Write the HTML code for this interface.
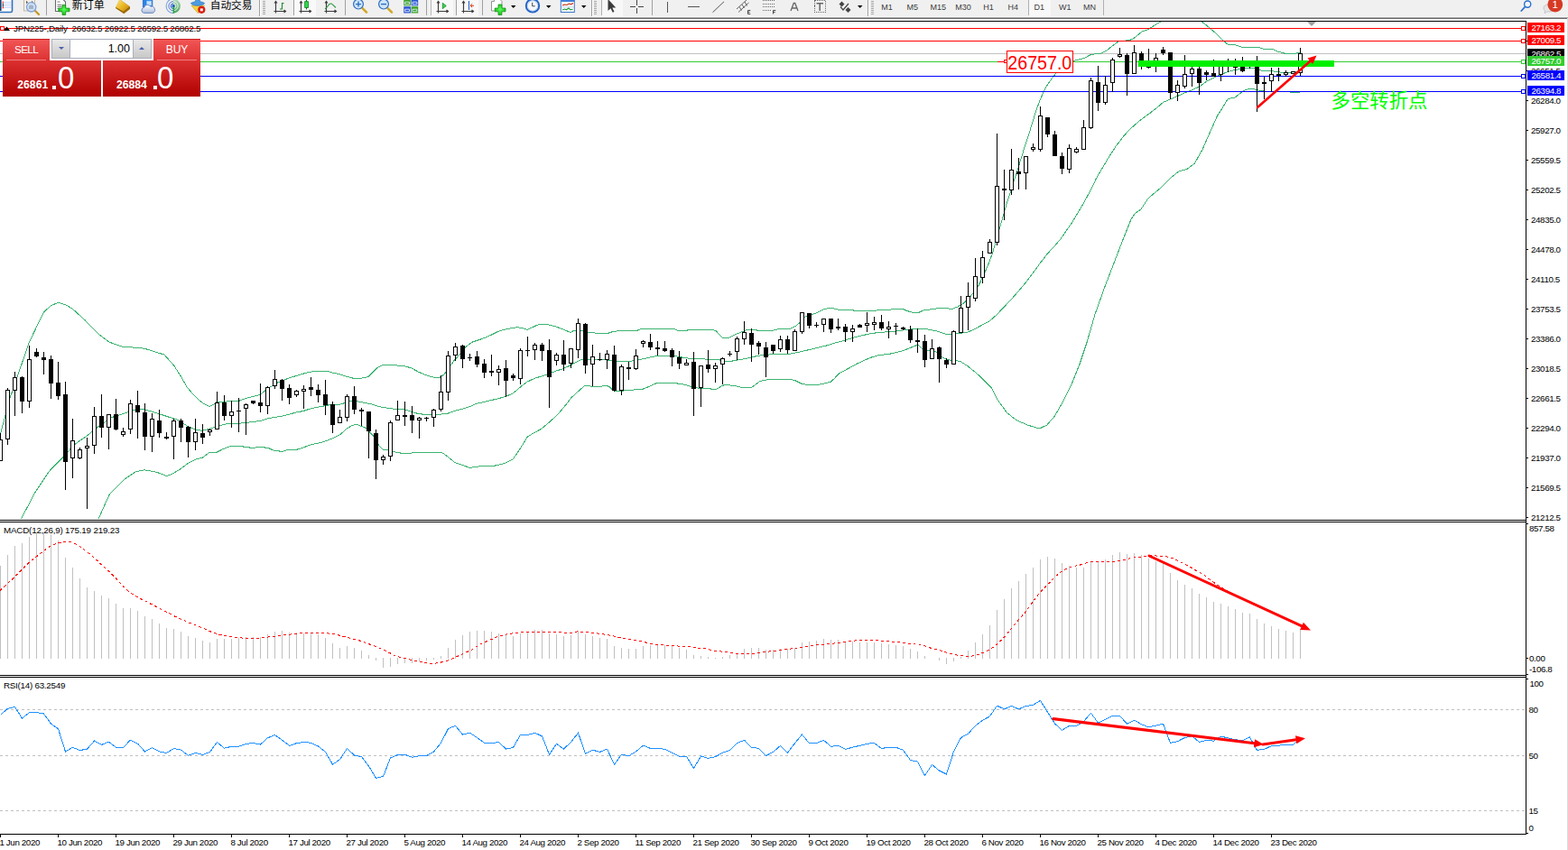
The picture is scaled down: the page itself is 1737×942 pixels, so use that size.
<!DOCTYPE html>
<html><head><meta charset="utf-8"><title>chart</title>
<style>
html,body{margin:0;padding:0;background:#fff}
body{width:1737px;height:942px;overflow:hidden;position:relative;font-family:"Liberation Sans",sans-serif}
svg{position:absolute;left:0;top:0;display:block}
#tbbg{position:absolute;left:0;top:0;width:1737px;height:18px;background:#f0f0f0}
#tbl1{position:absolute;left:0;top:18px;width:1737px;height:1px;background:#f8f8f8}
#tbl2{position:absolute;left:0;top:19px;width:1737px;height:1px;background:#a8a8a8}
#tbl3{position:absolute;left:0;top:20px;width:1737px;height:1px;background:#686868}
#rb{position:absolute;left:1736px;top:20px;width:1px;height:922px;background:#dcdcdc}
#panel{position:absolute;left:3px;top:43px;width:219px;height:64px}
#panel div{position:absolute;box-sizing:border-box}
.tab{background:linear-gradient(#f25555,#dc3232);color:#fff;font-size:12px;text-align:center;line-height:23px;border-top:1px solid #c81e1e}
.big{background:linear-gradient(#dc3030,#b00000);color:#fff}
</style></head><body>
<div id="tbbg"></div><div id="tbl1"></div><div id="tbl2"></div><div id="tbl3"></div>
<svg width="1737" height="24" viewBox="0 0 1737 24">
<text x="79.7" y="10.2" style="font-family:&quot;Liberation Sans&quot;,&quot;Noto Sans CJK SC&quot;,sans-serif;font-size:12px" fill="#000">新订单</text>
<text x="232.7" y="10.2" style="font-family:&quot;Liberation Sans&quot;,&quot;Noto Sans CJK SC&quot;,sans-serif;font-size:11.7px" fill="#000">自动交易</text>
<g id="ic1">
<rect x="-1" y="-2" width="14.5" height="15.5" rx="1.5" fill="#fff" stroke="#2f72bd" stroke-width="1.6"/>
<rect x="0" y="0" width="1.6" height="12" fill="#1c3f73"/>
<path d="M3.5 2.5h9M3.5 4.5h9M3.5 6.5h9M3.5 8.5h9" stroke="#9db8ff" stroke-width="0.6"/>
<rect x="2.7" y="1.8" width="1.3" height="1.3" fill="#f00"/><rect x="2.7" y="3.9" width="1.3" height="1.3" fill="#000"/><rect x="2.7" y="5.9" width="1.3" height="1.3" fill="#000"/><rect x="2.7" y="7.9" width="1.3" height="1.3" fill="#f00"/>
</g>
<g id="ic2">
<rect x="26.5" y="-1" width="12" height="13" fill="#f4efe6" stroke="#b9ad9c" stroke-width="0.8"/>
<path d="M29.5 1v3M29 2.5h2M35.5 1v3M35 2.5h2" stroke="#555" stroke-width="0.8"/>
<line x1="39" y1="12" x2="43" y2="16" stroke="#c49a2a" stroke-width="2.4" stroke-linecap="round"/>
<circle cx="34.7" cy="7.8" r="5.2" fill="#cfe0f2" fill-opacity="0.9" stroke="#7fa2dd" stroke-width="1.3"/>
<path d="M32 6.5q2.5-2 5 0v3.5h-5z" fill="#9fb2c8"/>
</g>
<rect x="51" y="0" width="1" height="17" fill="#a0a0a0"/>
<g id="ic3">
<path d="M61.5 -1h8l3 3v10.5h-11z" fill="#fff" stroke="#6a6a6a" stroke-width="1.1"/>
<path d="M63.5 2h3M63.5 5.5h5M63.5 7.5h5M63.5 9.5h3" stroke="#777" stroke-width="1"/>
<defs><radialGradient id="gp" cx="0.5" cy="0.45" r="0.6"><stop offset="0" stop-color="#5bff5b"/><stop offset="1" stop-color="#12b512"/></radialGradient></defs><path d="M69 5.5h3.7v3.6H77v3.7h-4.3v3.7H69v-3.7h-4.2V9.1H69z" fill="url(#gp)" stroke="#0b8a0b" stroke-width="0.7"/>
</g>
<g id="ic4">
<defs><linearGradient id="gb" x1="0" y1="0" x2="1" y2="1"><stop offset="0" stop-color="#fbe77a"/><stop offset="0.55" stop-color="#e9b422"/><stop offset="1" stop-color="#b87c0c"/></linearGradient></defs>
<path d="M132.6 -0.8L144 7.6V10L137.2 15.2L128 9z" fill="#a36d0a"/>
<path d="M132.6 -0.8L143.6 7.2L136.6 13L128.4 8.2q1.5-5 4.2-9z" fill="url(#gb)"/>
<path d="M128.4 8.6L136.8 13.4L143.8 7.8" fill="none" stroke="#8a5a06" stroke-width="0.7"/>
</g>
<g id="ic5">
<defs><linearGradient id="gc" x1="0" y1="0" x2="0" y2="1"><stop offset="0" stop-color="#ffffff"/><stop offset="1" stop-color="#aebfdd"/></linearGradient></defs>
<path d="M158.4 -1h10.4v9h-10.4z" fill="#2b83e8" stroke="#1b58b8" stroke-width="0.7"/>
<path d="M162.3 0.8h5.6v5.4h-5.6z" fill="#9fd0ff"/>
<path d="M163 2.6h4.4M163 4.4h4.4" stroke="#eaf5ff" stroke-width="0.9"/>
<path d="M159.4 14.4a3.1 3.1 0 0 1 0.2-6.1a3.9 3.9 0 0 1 7.2-1a3.6 3.6 0 0 1 2 7.1z" fill="url(#gc)" stroke="#5d7fbd" stroke-width="0.9"/>
</g>
<g id="ic6" fill="none">
<defs><linearGradient id="gs" x1="0" y1="0" x2="0" y2="1"><stop offset="0" stop-color="#b9dcbf"/><stop offset="1" stop-color="#4ea45c"/></linearGradient></defs>
<path d="M192 -1.2a7.9 7.9 0 0 1 0 15.8z" fill="url(#gs)"/>
<path d="M192 1.6a5.1 5.1 0 0 1 0 10.2" stroke="#eef7ef" stroke-width="1"/>
<path d="M192 3.9a2.8 2.8 0 0 1 0 5.6" stroke="#eef7ef" stroke-width="0.9"/>
<path d="M192 -1.2a7.9 7.9 0 0 0 0 15.8" stroke="#7f9fe0" stroke-width="1.1"/>
<path d="M192 1.6a5.1 5.1 0 0 0 0 10.2" stroke="#4a78d6" stroke-width="1"/>
<path d="M192 3.9a2.8 2.8 0 0 0 0 5.6" stroke="#2f62cc" stroke-width="1"/>
<circle cx="192" cy="6.7" r="1.6" fill="#1f58c9"/>
<path d="M192.4 7.5v7.2" stroke="#1fa63a" stroke-width="1.5"/>
</g>
<g id="ic7">
<path d="M212 6.2h14.5L219.5 14.8z" fill="#f4d23c" stroke="#c79a14" stroke-width="0.6"/>
<path d="M211.3 3.5q3-1.5 5-1.7l0.8-3h3.8l0.8 3q2.5 0.2 5 1.7q-1.5 2.8-7.7 2.8t-7.7-2.8z" fill="#4e9be0" stroke="#2c6fb8" stroke-width="0.6"/>
<circle cx="223.3" cy="10.8" r="4.1" fill="#d81e12"/>
<rect x="221.9" y="9.4" width="2.9" height="2.9" fill="#fff"/>
</g>
<rect x="287" y="0" width="1" height="18" fill="#a0a0a0"/><rect x="288" y="0" width="1" height="18" fill="#fff"/>
<g id="grips" stroke="#a6a6a6" stroke-width="1" shape-rendering="crispEdges">
<path d="M291 1.5h3M291 3.5h3M291 5.5h3M291 7.5h3M291 9.5h3M291 11.5h3M291 13.5h3M291 15.5h3"/>
<path d="M658 1.5h3M658 3.5h3M658 5.5h3M658 7.5h3M658 9.5h3M658 11.5h3M658 13.5h3M658 15.5h3"/>
<path d="M965 1.5h3M965 3.5h3M965 5.5h3M965 7.5h3M965 9.5h3M965 11.5h3M965 13.5h3M965 15.5h3"/>
</g>
<g id="axes" stroke="#3c3c3c" stroke-width="1.15" fill="none">
<path d="M305.5 1.5v13M303.5 12.5h13M304 3.5l1.5-2l1.5 2M314.5 11l2 1.5l-2 1.5"/>
<path d="M333.5 1.5v13M331.5 12.5h13M332 3.5l1.5-2l1.5 2M342.5 11l2 1.5l-2 1.5"/>
<path d="M361.5 1.5v13M359.5 12.5h13M360 3.5l1.5-2l1.5 2M370.5 11l2 1.5l-2 1.5"/>
<path d="M485.5 1.5v13M483.5 12.5h13M484 3.5l1.5-2l1.5 2M494.5 11l2 1.5l-2 1.5"/>
<path d="M513.5 1.5v13M511.5 12.5h13M512 3.5l1.5-2l1.5 2M522.5 11l2 1.5l-2 1.5"/>
</g>
<path d="M312.5 3v7.5M312.5 3.5h2M310 10h2.5" stroke="#1c8a2c" stroke-width="1.1" fill="none"/>
<rect x="325" y="0" width="1" height="17" fill="#a0a0a0"/>
<rect x="326" y="0" width="24" height="18" fill="#f9f9f9"/>
<path d="M333.5 1.5v13M331.5 12.5h13M332 3.5l1.5-2l1.5 2M342.5 11l2 1.5l-2 1.5" stroke="#3c3c3c" stroke-width="1.15" fill="none"/>
<path d="M339.5 0v10.5" stroke="#0d6a1d" stroke-width="1"/>
<rect x="337.7" y="1.7" width="3.7" height="6.8" fill="#2fdc4a" stroke="#0d7a22" stroke-width="0.8"/>
<path d="M360 10q3-2.5 4.5-5q2-2 4 0.2l3.5 3.3" stroke="#2f9a45" stroke-width="1.1" fill="none"/>
<rect x="382" y="0" width="1" height="17" fill="#a0a0a0"/>
<g id="zoomin">
<line x1="401.5" y1="9.2" x2="406" y2="13.7" stroke="#d1a827" stroke-width="2.6" stroke-linecap="round"/>
<circle cx="397" cy="4.6" r="5.4" fill="#cfe6fb" stroke="#2f6dbd" stroke-width="1.2"/>
<path d="M394 4.6h6M397 1.6v6" stroke="#2f6dbd" stroke-width="1.4"/>
</g>
<g id="zoomout">
<line x1="429.5" y1="9.2" x2="434" y2="13.7" stroke="#d1a827" stroke-width="2.6" stroke-linecap="round"/>
<circle cx="425" cy="4.6" r="5.4" fill="#cfe6fb" stroke="#2f6dbd" stroke-width="1.2"/>
<path d="M422 4.6h6" stroke="#2f6dbd" stroke-width="1.4"/>
</g>
<g id="tile">
<rect x="447.3" y="-1" width="7.6" height="7.3" fill="#3aa326"/><rect x="455.6" y="-1" width="7.6" height="7.3" fill="#2a55d4"/>
<rect x="447.3" y="7.2" width="7.6" height="7.3" fill="#2a55d4"/><rect x="455.6" y="7.2" width="7.6" height="7.3" fill="#3aa326"/>
<path d="M448.7 2.2h4.8v2.6h-4.8zM457 2.2h4.8v2.6H457zM448.7 10.2h4.8v2.6h-4.8zM457 10.2h4.8v2.6H457z" fill="none" stroke="#e8f0ff" stroke-width="0.9"/>
</g>
<rect x="472" y="0" width="1" height="17" fill="#a0a0a0"/>
<rect x="477" y="0" width="1" height="17" fill="#b8b8b8"/><rect x="478" y="0" width="24" height="18" fill="#f8f8f8"/>
<path d="M485.5 1.5v13M483.5 12.5h13M484 3.5l1.5-2l1.5 2M494.5 11l2 1.5l-2 1.5" stroke="#3c3c3c" stroke-width="1.15" fill="none"/>
<path d="M490.3 3.3v6.4l4-3.2z" fill="#3fd24f" stroke="#168a2a" stroke-width="0.8"/>
<rect x="505" y="0" width="1" height="17" fill="#a0a0a0"/><rect x="506" y="0" width="24" height="18" fill="#f8f8f8"/>
<path d="M513.5 1.5v13M511.5 12.5h13M512 3.5l1.5-2l1.5 2M522.5 11l2 1.5l-2 1.5" stroke="#3c3c3c" stroke-width="1.15" fill="none"/>
<path d="M519.5 1v10" stroke="#1f63c9" stroke-width="1.1"/>
<path d="M521 6.3h4M521 6.3l2.2-2M521 6.3l2.2 2" stroke="#d43a10" stroke-width="1" fill="none"/>
<rect x="534" y="0" width="1" height="17" fill="#a0a0a0"/>
<g id="ind">
<path d="M544.5 1.5h3v-2.5h6l2.5 2.5v10.5h-11.5z" fill="#fff" stroke="#8a8a8a" stroke-width="0.9"/>
<path d="M552 5h3.9v4H560v3.8h-4.1v3.8H552v-3.8h-3.8V9H552z" fill="url(#gp)" stroke="#0b8a0b" stroke-width="0.7"/>
</g>
<path d="M566 6h5.5l-2.75 3z M605 6h5.5l-2.75 3z M644 6h5.5l-2.75 3z M950 6h5.5l-2.75 3z" fill="#000"/>
<g id="clock">
<circle cx="590" cy="6.4" r="7.2" fill="#fff" stroke="#2467c9" stroke-width="2"/>
<circle cx="590" cy="6.4" r="5.6" fill="#f4f7fb" stroke="#9ab3d8" stroke-width="0.6"/>
<path d="M589.7 2.8v4h3" stroke="#444" stroke-width="1" fill="none"/>
</g>
<g id="tmpl">
<rect x="621.3" y="-1" width="15" height="14.5" fill="#fff" stroke="#3a74c8" stroke-width="1"/>
<rect x="621.3" y="-1" width="15" height="3" fill="#3f7fdc"/>
<path d="M623 6l2.5-1l2.5 0.5l2.5-1.5l2 0.8l2.5-1.3" stroke="#c22a10" stroke-width="1.1" fill="none"/>
<path d="M621.5 7.8h14.5" stroke="#9ab3d8" stroke-width="0.6"/>
<path d="M623 11l2.5-1l2 0.8l2.5-1.8l2 1.8l2.5-0.5" stroke="#1f9a3a" stroke-width="1.1" fill="none"/>
</g>
<rect x="655" y="0" width="1" height="18" fill="#a0a0a0"/><rect x="656" y="0" width="1" height="18" fill="#fff"/>
<rect x="666" y="0" width="1" height="17" fill="#b0b0b0"/><rect x="667" y="0" width="23" height="18" fill="#f8f8f8"/>
<path d="M673.5 -1v13l3-2.8l2.2 4.6l1.8-0.9l-2.2-4.4h4z" fill="#3c3c3c"/>
<path d="M698 7.5h6M707 7.5h6M705.5 0v6M705.5 9v6" stroke="#444" stroke-width="1" shape-rendering="crispEdges"/>
<rect x="722" y="0" width="1" height="17" fill="#a0a0a0"/>
<path d="M739.5 1.5v12.5M762 7.5h12.5" stroke="#555" stroke-width="1" shape-rendering="crispEdges"/>
<path d="M789.5 13.7L802 1.8" stroke="#555" stroke-width="1"/>
<path d="M816 10L827 0M818 13.5L829.5 3M819 7.5l2.5 4M822 5l2.5 4M825 2l2.5 4.5" stroke="#555" stroke-width="0.9" fill="none"/>
<path d="M828.5 11.5h2.8M828.5 11.5v4h2.8M828.5 13.4h2.2" stroke="#333" stroke-width="0.9" fill="none"/>
<path d="M845 0.5h13M845 4h13M845 7.5h13M845 11.5h10" stroke="#666" stroke-width="1" stroke-dasharray="1 1" shape-rendering="crispEdges"/>
<path d="M856.5 15.5v-4h2.8M856.5 13.4h2.2" stroke="#333" stroke-width="0.9" fill="none"/>
<path d="M876 12L879.3 3.5h1.4L884 12M877.3 9h5.4" stroke="#666" stroke-width="1.3" fill="none"/>
<rect x="902.5" y="0.5" width="11.5" height="13" fill="none" stroke="#666" stroke-width="1" stroke-dasharray="1 1" shape-rendering="crispEdges"/>
<path d="M904.5 3.7h7.5M908.2 3.7v8.3" stroke="#666" stroke-width="1.5" fill="none"/>
<path d="M932.5 1.5l3 3l-3 3l-3-3zM939.5 8l3 3l-3 3l-3-3z" fill="#444"/>
<path d="M931 7.5l3 3.5l6-7" stroke="#444" stroke-width="1.2" fill="none"/>
<rect x="961" y="0" width="1" height="18" fill="#a0a0a0"/><rect x="962" y="0" width="1" height="18" fill="#fff"/>
<rect x="1139" y="0" width="1" height="17" fill="#b0b0b0"/><rect x="1140" y="0" width="24" height="18" fill="#f8f8f8"/>
<rect x="1222" y="0" width="1" height="17" fill="#b0b0b0"/>
<g style="font-family:&quot;Liberation Sans&quot;,sans-serif;font-size:9px" fill="#3c3c3c">
<text x="976.3" y="10.7">M1</text><text x="1004.6" y="10.7">M5</text><text x="1030.5" y="10.7">M15</text><text x="1058.3" y="10.7">M30</text>
<text x="1089.2" y="10.7">H1</text><text x="1116.5" y="10.7">H4</text><text x="1145.4" y="10.7">D1</text><text x="1173" y="10.7">W1</text><text x="1200" y="10.7">MN</text>
</g>
<g id="search">
<line x1="1689.5" y1="7.5" x2="1685.3" y2="12" stroke="#2a6fc9" stroke-width="1.8" stroke-linecap="round"/>
<circle cx="1692.2" cy="4.6" r="3.6" fill="#f4f8ff" stroke="#2a6fc9" stroke-width="1.4"/>
</g>
<g id="chat">
<path d="M1710 9q0-4 6-4t6 4t-6 4q-1 0-2-0.2l-3 2l0.6-2.8q-1.6-1.2-1.6-3z" fill="#e6e6e6" stroke="#bdbdbd" stroke-width="0.8"/>
<circle cx="1722.8" cy="5" r="8.4" fill="#d63a24"/>
<text x="1722.8" y="9.2" text-anchor="middle" style="font-family:&quot;Liberation Sans&quot;,sans-serif;font-size:11.5px" fill="#fff">1</text>
</g>

</svg>
<svg width="1737" height="942" viewBox="0 0 1737 942">
<defs><clipPath id="cm"><rect x="0" y="24" width="1690" height="552"/></clipPath><clipPath id="cd"><rect x="0" y="579" width="1690" height="169"/></clipPath><clipPath id="cr"><rect x="0" y="751" width="1690" height="173"/></clipPath></defs>
<rect x="0" y="59" width="1690" height="1" fill="#c0c0c0" shape-rendering="crispEdges"/>
<g fill="none" stroke="#3cb371" stroke-width="1" shape-rendering="crispEdges" clip-path="url(#cm)">
<polyline points="0.0,482.8 11.0,441.4 32.3,379.3 48.3,346.2 56.0,339.0 64.5,335.2 72.0,337.5 80.0,342.0 93.8,354.5 110.3,371.0 121.4,379.3 135.2,384.0 160.0,386.2 182.0,393.1 193.0,405.5 200.0,416.6 202.0,420.0 207.5,429.5 214.0,437.0 220.0,443.0 226.0,447.6 232.0,450.6 236.0,448.6 240.0,445.5 248.0,445.7 254.0,444.4 265.0,444.2 272.0,441.5 280.0,439.6 288.0,437.5 293.0,433.5 300.0,428.4 308.0,423.7 316.0,420.5 324.0,417.8 333.0,415.0 342.0,412.5 350.0,411.2 362.0,411.2 368.0,413.0 376.0,414.6 384.0,417.3 392.0,419.4 400.0,419.2 408.0,417.5 413.0,412.4 418.0,407.3 424.0,404.7 436.0,404.7 448.0,405.6 456.0,408.1 464.0,412.4 472.0,415.8 480.0,418.0 487.0,418.3 492.0,415.0 497.0,408.1 503.0,399.6 510.0,392.0 516.0,384.3 523.0,379.2 528.0,377.5 536.0,374.8 544.0,371.3 552.0,367.2 560.0,365.0 568.0,363.4 574.0,362.7 580.0,364.0 584.0,365.5 590.0,362.7 596.0,359.9 602.0,359.0 608.0,359.9 616.0,362.1 624.0,365.0 632.0,368.5 636.0,366.0 644.0,366.0 650.0,368.5 656.0,368.5 662.0,369.5 673.0,369.5 680.0,367.2 690.0,366.6 705.0,366.6 711.0,364.3 746.0,364.3 751.0,366.3 760.0,366.3 765.0,365.3 788.0,365.3 793.0,366.6 800.0,374.2 808.0,374.2 816.0,370.1 824.0,366.9 829.0,365.0 835.0,365.3 840.0,366.3 856.0,366.3 863.0,364.4 868.0,364.1 873.0,365.0 878.0,363.1 882.0,361.2 886.0,357.4 892.0,351.0 900.0,348.5 906.0,346.2 912.0,343.0 918.0,341.5 923.0,341.7 928.0,343.0 940.0,343.6 948.0,344.2 970.0,344.2 974.0,343.2 986.0,343.2 990.0,342.3 1000.0,342.3 1004.0,344.2 1008.0,345.5 1012.0,346.4 1017.0,346.8 1022.0,344.2 1028.0,343.2 1034.0,342.6 1040.0,341.3 1048.0,341.3 1054.0,342.6 1060.0,340.4 1066.0,337.2 1072.0,332.0 1078.0,324.7 1084.0,316.5 1090.0,304.3 1096.0,290.3 1100.0,278.8 1104.0,265.0 1108.0,250.8 1112.0,236.8 1116.0,222.8 1120.0,211.0 1124.0,198.0 1128.0,186.0 1132.0,173.0 1136.0,160.0 1140.0,148.0 1144.0,135.0 1148.0,122.0 1152.0,111.0 1156.0,102.0 1160.0,94.4 1166.0,85.9 1170.0,81.1 1178.0,74.0 1190.4,67.2 1200.7,64.6 1208.5,60.5 1219.7,59.1 1225.8,56.0 1233.5,50.0 1239.6,45.6 1250.8,44.7 1256.0,42.5 1260.5,38.8 1264.6,35.3 1271.5,32.7 1278.4,28.4 1286.2,23.7 1296.0,17.0 1308.0,13.0 1320.0,16.0 1331.1,23.7 1338.9,30.1 1345.8,36.0 1354.5,44.7 1360.4,49.4 1368.2,49.8 1376.0,52.4 1394.0,52.4 1400.0,54.4 1410.0,54.5 1416.0,57.3 1424.0,59.4 1434.0,59.4 1440.0,58.1"/>
<polyline points="23.4,575.2 38.6,546.2 55.2,521.4 69.0,507.6 82.8,492.4 96.6,482.8 110.3,471.7 124.0,462.5 140.0,457.5 147.0,455.0 158.0,453.3 170.0,456.6 185.0,461.5 197.0,465.4 208.0,472.5 216.0,476.0 224.0,477.3 232.0,475.2 240.0,473.0 250.0,469.9 264.0,469.3 276.0,468.0 288.0,466.6 296.0,464.0 304.0,462.4 312.0,461.3 320.0,459.2 328.0,457.1 336.0,455.5 344.0,452.9 352.0,451.3 360.0,449.7 368.0,448.1 376.0,448.3 384.0,446.0 392.0,443.2 396.0,444.7 404.0,446.4 412.0,448.1 420.0,450.7 428.0,452.0 436.0,453.2 448.0,453.5 456.0,456.5 464.0,458.7 472.0,459.4 480.0,459.4 488.0,459.1 496.0,458.2 504.0,455.4 512.0,453.2 520.0,450.7 528.0,447.3 536.0,445.5 544.0,443.6 552.0,441.7 560.0,439.5 567.0,436.6 572.0,432.8 578.0,427.7 584.0,423.2 592.0,419.4 600.0,416.9 608.0,414.3 616.0,411.1 624.0,408.6 632.0,404.8 640.0,400.3 645.0,398.4 668.0,398.4 672.0,399.0 680.0,400.3 697.0,400.6 705.0,399.0 712.0,397.8 720.0,396.1 728.0,394.3 740.0,394.3 748.0,394.6 756.0,396.1 764.0,397.4 776.0,397.4 784.0,398.4 796.0,398.7 804.0,400.3 810.0,400.3 818.0,398.8 826.0,397.5 832.0,396.2 838.0,394.6 844.0,393.7 852.0,393.0 860.0,392.4 868.0,392.0 876.0,392.0 884.0,390.5 892.0,388.6 900.0,386.7 908.0,384.8 916.0,382.9 924.0,380.3 932.0,378.4 940.0,375.8 948.0,373.5 956.0,371.6 964.0,369.7 972.0,368.7 980.0,368.0 988.0,367.8 996.0,366.5 1004.0,365.5 1012.0,364.6 1020.0,364.3 1028.0,365.0 1036.0,366.5 1042.0,368.4 1048.0,370.3 1054.0,370.6 1060.0,369.5 1066.0,369.0 1072.0,368.1 1080.0,364.5 1088.0,360.2 1096.0,356.0 1104.0,348.9 1112.0,340.5 1120.0,332.0 1128.0,323.0 1136.0,313.5 1144.0,303.0 1152.0,292.0 1160.0,281.5 1168.0,273.0 1174.6,265.3 1187.3,247.0 1200.1,225.8 1208.0,211.0 1214.0,198.6 1220.0,188.1 1228.0,174.7 1236.0,162.3 1244.0,151.8 1250.0,145.1 1256.0,139.4 1264.0,132.5 1274.4,125.0 1282.0,119.0 1288.7,113.3 1296.4,110.0 1305.0,106.2 1312.6,102.8 1321.2,99.5 1328.4,96.1 1336.5,90.4 1344.1,86.6 1348.9,84.2 1354.6,81.8 1360.3,79.4 1368.0,77.5 1376.0,76.2 1384.0,75.2 1390.0,75.4 1398.0,78.3 1410.0,78.8 1416.0,79.9 1424.0,80.4 1432.0,80.4 1440.0,79.4"/>
<polyline points="109.0,575.2 121.4,547.6 137.9,531.0 150.3,522.8 160.0,520.8 173.8,523.3 184.3,527.4 190.0,525.7 199.2,520.2 208.4,513.3 216.7,509.1 224.1,507.3 231.5,501.8 239.7,501.5 247.1,497.6 255.4,494.4 268.3,494.4 270.1,495.3 275.7,495.5 277.5,496.5 282.1,496.5 284.9,495.3 292.2,495.3 294.1,496.4 297.8,496.7 303.3,499.3 307.9,499.5 310.7,500.4 313.4,500.2 319.0,498.4 328.2,498.4 335.5,496.3 342.0,493.5 348.0,492.0 356.0,490.3 364.0,487.6 372.0,484.2 377.0,481.5 384.0,475.1 390.0,471.4 396.0,470.4 400.0,472.3 405.0,474.2 410.0,479.5 414.0,483.6 420.0,493.9 424.0,498.2 430.0,499.0 436.0,500.7 444.0,502.1 452.0,502.4 460.0,501.6 472.0,501.2 488.0,501.2 492.0,503.0 497.0,507.0 504.0,512.6 512.0,515.2 520.0,518.4 526.0,517.7 532.0,516.7 546.7,516.4 554.9,514.6 560.7,512.9 568.3,508.8 574.8,499.4 580.6,490.1 584.1,484.2 588.8,481.3 599.3,475.5 608.6,467.9 619.1,458.0 627.3,448.0 633.2,440.4 640.2,434.0 647.2,427.9 650.7,427.2 655.4,428.4 665.9,428.2 671.7,427.2 675.2,428.8 679.0,432.5 682.0,433.4 690.0,433.1 700.0,432.2 712.0,431.2 720.0,428.0 727.0,424.8 730.0,424.1 748.0,424.1 751.0,425.2 758.0,426.1 764.0,428.0 770.0,429.9 780.0,430.3 784.0,430.3 790.0,431.5 794.0,431.2 800.0,427.4 804.0,426.4 808.0,426.8 816.0,428.0 823.0,429.7 832.0,429.7 837.0,426.2 842.0,422.4 848.0,421.1 854.0,420.4 876.0,420.4 881.0,421.7 888.0,425.2 894.0,426.4 906.0,426.4 914.0,424.9 920.0,423.3 924.0,419.8 930.0,413.4 935.0,410.9 942.0,407.2 950.0,402.8 958.0,399.0 966.0,395.8 974.0,393.5 984.0,392.6 992.0,390.7 1000.0,388.8 1008.0,385.6 1016.0,382.4 1018.0,383.1 1022.0,386.9 1026.0,388.8 1032.0,388.8 1037.0,390.1 1043.0,395.2 1047.0,397.7 1052.0,399.0 1058.0,399.6 1064.0,400.5 1072.7,406.2 1085.5,416.8 1098.2,429.6 1104.6,442.3 1115.2,457.1 1125.8,465.6 1138.5,471.1 1151.3,475.0 1159.7,471.1 1168.2,461.4 1176.7,446.5 1187.3,425.3 1195.8,404.1 1204.3,378.6 1212.8,348.9 1223.4,319.2 1234.0,291.6 1244.6,264.0 1253.1,242.8 1257.4,236.4 1263.7,232.2 1272.2,219.5 1285.0,208.8 1295.6,198.2 1306.2,189.7 1314.7,187.6 1323.2,181.3 1331.7,166.4 1340.1,147.3 1348.6,128.2 1354.6,119.0 1360.3,109.5 1368.0,108.1 1375.0,102.5 1380.0,99.5 1385.0,98.0 1390.0,99.0 1396.0,100.5 1400.0,101.0 1420.0,101.5 1438.0,102.5 1440.0,102.0"/>
</g>
<g shape-rendering="crispEdges" clip-path="url(#cm)">
<rect x="0" y="31" width="1690" height="1" fill="#ff0000"/>
<rect x="0" y="45" width="1690" height="1" fill="#ff0000"/>
<rect x="0" y="68" width="1690" height="1" fill="#32cd32"/>
<rect x="0" y="84" width="1690" height="1" fill="#0000ff"/>
<rect x="0" y="101" width="1690" height="1" fill="#0000ff"/>
</g>
<g shape-rendering="crispEdges" clip-path="url(#cm)">
<path d="M0 480h1v31h-1zM8 430h1v63h-1zM16 412h1v49h-1zM24 417h1v41h-1zM32 383h1v69h-1zM40 386h1v10h-1zM48 390h1v25h-1zM56 394h1v48h-1zM64 401h1v42h-1zM72 423h1v120h-1zM80 464h1v66h-1zM88 496h1v13h-1zM96 485h1v79h-1zM104 451h1v52h-1zM112 437h1v48h-1zM120 459h1v39h-1zM128 442h1v35h-1zM136 474h1v10h-1zM144 443h1v38h-1zM152 433h1v53h-1zM160 447h1v52h-1zM168 458h1v43h-1zM176 454h1v31h-1zM184 479h1v8h-1zM192 464h1v45h-1zM200 464h1v26h-1zM208 472h1v35h-1zM216 464h1v35h-1zM224 470h1v22h-1zM232 475h1v8h-1zM240 434h1v42h-1zM248 438h1v28h-1zM256 444h1v30h-1zM264 441h1v38h-1zM272 447h1v35h-1zM280 444h1v4h-1zM288 425h1v32h-1zM296 428h1v31h-1zM304 410h1v21h-1zM312 420h1v24h-1zM320 426h1v22h-1zM328 432h1v8h-1zM336 427h1v26h-1zM344 418h1v21h-1zM352 426h1v20h-1zM360 421h1v39h-1zM368 445h1v35h-1zM376 454h1v15h-1zM384 437h1v30h-1zM392 428h1v31h-1zM400 452h1v20h-1zM408 456h1v52h-1zM416 476h1v55h-1zM424 504h1v11h-1zM432 466h1v45h-1zM440 444h1v22h-1zM448 445h1v27h-1zM456 450h1v30h-1zM464 462h1v24h-1zM472 462h1v5h-1zM480 453h1v20h-1zM488 416h1v40h-1zM496 389h1v55h-1zM504 380h1v20h-1zM512 382h1v26h-1zM520 392h1v8h-1zM528 389h1v18h-1zM536 398h1v21h-1zM544 393h1v24h-1zM552 405h1v22h-1zM560 399h1v41h-1zM568 414h1v8h-1zM576 386h1v40h-1zM584 373h1v22h-1zM592 380h1v19h-1zM600 380h1v20h-1zM608 376h1v76h-1zM616 391h1v14h-1zM624 377h1v34h-1zM632 386h1v22h-1zM640 353h1v44h-1zM648 358h1v56h-1zM656 382h1v46h-1zM664 391h1v9h-1zM672 388h1v21h-1zM680 383h1v51h-1zM688 404h1v34h-1zM696 401h1v20h-1zM704 387h1v23h-1zM712 377h1v8h-1zM720 370h1v18h-1zM728 378h1v16h-1zM736 378h1v12h-1zM744 386h1v20h-1zM752 389h1v20h-1zM760 398h1v7h-1zM768 390h1v71h-1zM776 405h1v46h-1zM784 388h1v25h-1zM792 402h1v22h-1zM800 396h1v30h-1zM808 389h1v6h-1zM816 373h1v26h-1zM824 356h1v26h-1zM832 364h1v37h-1zM840 378h1v15h-1zM848 379h1v39h-1zM856 382h1v10h-1zM864 372h1v18h-1zM872 372h1v20h-1zM880 365h1v24h-1zM888 346h1v24h-1zM896 347h1v17h-1zM904 357h1v6h-1zM912 353h1v15h-1zM920 353h1v16h-1zM928 353h1v13h-1zM936 359h1v20h-1zM944 360h1v19h-1zM952 359h1v4h-1zM960 346h1v22h-1zM968 351h1v15h-1zM976 349h1v17h-1zM984 356h1v19h-1zM992 358h1v13h-1zM1000 362h1v4h-1zM1008 361h1v19h-1zM1016 364h1v27h-1zM1024 371h1v36h-1zM1032 376h1v22h-1zM1040 384h1v40h-1zM1048 397h1v11h-1zM1056 366h1v38h-1zM1064 328h1v41h-1zM1072 313h1v53h-1zM1080 286h1v48h-1zM1088 278h1v36h-1zM1096 265h1v16h-1zM1104 148h1v124h-1zM1112 188h1v56h-1zM1120 165h1v51h-1zM1128 175h1v35h-1zM1136 173h1v37h-1zM1144 159h1v9h-1zM1152 118h1v50h-1zM1160 130h1v22h-1zM1168 145h1v28h-1zM1176 169h1v24h-1zM1184 160h1v32h-1zM1192 163h1v7h-1zM1200 133h1v33h-1zM1208 86h1v57h-1zM1216 73h1v50h-1zM1224 84h1v32h-1zM1232 64h1v38h-1zM1240 53h1v11h-1zM1248 59h1v47h-1zM1256 50h1v32h-1zM1264 57h1v20h-1zM1272 54h1v22h-1zM1280 59h1v21h-1zM1288 52h1v9h-1zM1296 58h1v52h-1zM1304 89h1v23h-1zM1312 61h1v37h-1zM1320 73h1v23h-1zM1328 72h1v33h-1zM1336 78h1v11h-1zM1344 66h1v19h-1zM1352 70h1v20h-1zM1360 65h1v15h-1zM1368 65h1v18h-1zM1376 63h1v17h-1zM1384 70h1v6h-1zM1392 62h1v62h-1zM1400 85h1v25h-1zM1408 75h1v27h-1zM1416 75h1v15h-1zM1424 78h1v7h-1zM1432 79h1v3h-1zM1440 53h1v31h-1z" fill="#000"/>
<path d="M22 418h5v27h-5zM38 390h5v5h-5zM46 396h5v3h-5zM54 398h5v27h-5zM62 424h5v15h-5zM70 437h5v75h-5zM110 461h5v13h-5zM126 459h5v17h-5zM150 449h5v8h-5zM158 457h5v27h-5zM174 466h5v14h-5zM182 484h5v2h-5zM198 466h5v8h-5zM206 473h5v17h-5zM222 480h5v5h-5zM246 446h5v15h-5zM262 455h5v1h-5zM278 444h5v3h-5zM286 446h5v4h-5zM310 421h5v10h-5zM318 430h5v11h-5zM342 429h5v3h-5zM350 432h5v6h-5zM358 437h5v12h-5zM366 448h5v23h-5zM390 439h5v15h-5zM398 454h5v2h-5zM406 456h5v22h-5zM414 480h5v30h-5zM446 460h5v2h-5zM454 460h5v6h-5zM470 463h5v1h-5zM510 383h5v15h-5zM518 396h5v1h-5zM526 395h5v9h-5zM534 403h5v10h-5zM542 411h5v2h-5zM558 408h5v14h-5zM566 416h5v3h-5zM582 388h5v1h-5zM598 382h5v7h-5zM606 388h5v30h-5zM622 393h5v11h-5zM646 359h5v46h-5zM662 398h5v1h-5zM678 393h5v40h-5zM694 407h5v2h-5zM718 379h5v6h-5zM726 385h5v2h-5zM734 386h5v3h-5zM742 388h5v8h-5zM750 396h5v7h-5zM766 401h5v30h-5zM782 404h5v5h-5zM806 392h5v1h-5zM830 369h5v13h-5zM838 380h5v4h-5zM846 385h5v11h-5zM854 382h5v7h-5zM870 376h5v12h-5zM894 347h5v14h-5zM902 360h5v1h-5zM918 353h5v12h-5zM926 362h5v2h-5zM934 362h5v6h-5zM950 360h5v3h-5zM974 357h5v7h-5zM990 361h5v1h-5zM998 363h5v2h-5zM1006 365h5v12h-5zM1014 377h5v2h-5zM1022 378h5v21h-5zM1038 385h5v13h-5zM1046 399h5v5h-5zM1110 209h5v2h-5zM1126 190h5v3h-5zM1158 130h5v19h-5zM1166 149h5v24h-5zM1174 173h5v14h-5zM1214 91h5v23h-5zM1246 61h5v21h-5zM1262 59h5v11h-5zM1270 71h5v4h-5zM1286 55h5v4h-5zM1294 58h5v45h-5zM1326 76h5v16h-5zM1334 80h5v3h-5zM1342 81h5v4h-5zM1358 70h5v1h-5zM1366 74h5v1h-5zM1374 70h5v9h-5zM1382 72h5v1h-5zM1390 70h5v23h-5zM1398 91h5v2h-5zM1414 82h5v2h-5z" fill="#000"/>
<rect x="-2" y="487" width="5" height="24" fill="#000"/>
<rect x="-1" y="488" width="3" height="22" fill="#fff"/>
<rect x="6" y="432" width="5" height="55" fill="#000"/>
<rect x="7" y="433" width="3" height="53" fill="#fff"/>
<rect x="14" y="418" width="5" height="15" fill="#000"/>
<rect x="15" y="419" width="3" height="13" fill="#fff"/>
<rect x="30" y="398" width="5" height="47" fill="#000"/>
<rect x="31" y="399" width="3" height="45" fill="#fff"/>
<rect x="78" y="488" width="5" height="20" fill="#000"/>
<rect x="79" y="489" width="3" height="18" fill="#fff"/>
<rect x="86" y="498" width="5" height="10" fill="#000"/>
<rect x="87" y="499" width="3" height="8" fill="#fff"/>
<rect x="94" y="494" width="5" height="3" fill="#000"/>
<rect x="95" y="495" width="3" height="1" fill="#fff"/>
<rect x="102" y="461" width="5" height="33" fill="#000"/>
<rect x="103" y="462" width="3" height="31" fill="#fff"/>
<rect x="118" y="459" width="5" height="15" fill="#000"/>
<rect x="119" y="460" width="3" height="13" fill="#fff"/>
<rect x="134" y="478" width="5" height="4" fill="#000"/>
<rect x="135" y="479" width="3" height="2" fill="#fff"/>
<rect x="142" y="447" width="5" height="29" fill="#000"/>
<rect x="143" y="448" width="3" height="27" fill="#fff"/>
<rect x="166" y="464" width="5" height="20" fill="#000"/>
<rect x="167" y="465" width="3" height="18" fill="#fff"/>
<rect x="190" y="466" width="5" height="18" fill="#000"/>
<rect x="191" y="467" width="3" height="16" fill="#fff"/>
<rect x="214" y="479" width="5" height="11" fill="#000"/>
<rect x="215" y="480" width="3" height="9" fill="#fff"/>
<rect x="230" y="476" width="5" height="3" fill="#000"/>
<rect x="231" y="477" width="3" height="1" fill="#fff"/>
<rect x="238" y="446" width="5" height="30" fill="#000"/>
<rect x="239" y="447" width="3" height="28" fill="#fff"/>
<rect x="254" y="456" width="5" height="5" fill="#000"/>
<rect x="255" y="457" width="3" height="3" fill="#fff"/>
<rect x="270" y="448" width="5" height="5" fill="#000"/>
<rect x="271" y="449" width="3" height="3" fill="#fff"/>
<rect x="294" y="429" width="5" height="21" fill="#000"/>
<rect x="295" y="430" width="3" height="19" fill="#fff"/>
<rect x="302" y="420" width="5" height="8" fill="#000"/>
<rect x="303" y="421" width="3" height="6" fill="#fff"/>
<rect x="326" y="433" width="5" height="5" fill="#000"/>
<rect x="327" y="434" width="3" height="3" fill="#fff"/>
<rect x="334" y="431" width="5" height="3" fill="#000"/>
<rect x="335" y="432" width="3" height="1" fill="#fff"/>
<rect x="374" y="462" width="5" height="7" fill="#000"/>
<rect x="375" y="463" width="3" height="5" fill="#fff"/>
<rect x="382" y="439" width="5" height="24" fill="#000"/>
<rect x="383" y="440" width="3" height="22" fill="#fff"/>
<rect x="422" y="506" width="5" height="4" fill="#000"/>
<rect x="423" y="507" width="3" height="2" fill="#fff"/>
<rect x="430" y="468" width="5" height="38" fill="#000"/>
<rect x="431" y="469" width="3" height="36" fill="#fff"/>
<rect x="438" y="460" width="5" height="6" fill="#000"/>
<rect x="439" y="461" width="3" height="4" fill="#fff"/>
<rect x="462" y="463" width="5" height="3" fill="#000"/>
<rect x="463" y="464" width="3" height="1" fill="#fff"/>
<rect x="478" y="454" width="5" height="9" fill="#000"/>
<rect x="479" y="455" width="3" height="7" fill="#fff"/>
<rect x="486" y="434" width="5" height="20" fill="#000"/>
<rect x="487" y="435" width="3" height="18" fill="#fff"/>
<rect x="494" y="394" width="5" height="41" fill="#000"/>
<rect x="495" y="395" width="3" height="39" fill="#fff"/>
<rect x="502" y="384" width="5" height="10" fill="#000"/>
<rect x="503" y="385" width="3" height="8" fill="#fff"/>
<rect x="550" y="409" width="5" height="4" fill="#000"/>
<rect x="551" y="410" width="3" height="2" fill="#fff"/>
<rect x="574" y="388" width="5" height="32" fill="#000"/>
<rect x="575" y="389" width="3" height="30" fill="#fff"/>
<rect x="590" y="382" width="5" height="6" fill="#000"/>
<rect x="591" y="383" width="3" height="4" fill="#fff"/>
<rect x="614" y="393" width="5" height="7" fill="#000"/>
<rect x="615" y="394" width="3" height="5" fill="#fff"/>
<rect x="630" y="386" width="5" height="17" fill="#000"/>
<rect x="631" y="387" width="3" height="15" fill="#fff"/>
<rect x="638" y="358" width="5" height="30" fill="#000"/>
<rect x="639" y="359" width="3" height="28" fill="#fff"/>
<rect x="654" y="395" width="5" height="9" fill="#000"/>
<rect x="655" y="396" width="3" height="7" fill="#fff"/>
<rect x="670" y="392" width="5" height="7" fill="#000"/>
<rect x="671" y="393" width="3" height="5" fill="#fff"/>
<rect x="686" y="406" width="5" height="27" fill="#000"/>
<rect x="687" y="407" width="3" height="25" fill="#fff"/>
<rect x="702" y="394" width="5" height="15" fill="#000"/>
<rect x="703" y="395" width="3" height="13" fill="#fff"/>
<rect x="710" y="378" width="5" height="3" fill="#000"/>
<rect x="711" y="379" width="3" height="1" fill="#fff"/>
<rect x="758" y="402" width="5" height="3" fill="#000"/>
<rect x="759" y="403" width="3" height="1" fill="#fff"/>
<rect x="774" y="405" width="5" height="25" fill="#000"/>
<rect x="775" y="406" width="3" height="23" fill="#fff"/>
<rect x="790" y="405" width="5" height="4" fill="#000"/>
<rect x="791" y="406" width="3" height="2" fill="#fff"/>
<rect x="798" y="397" width="5" height="7" fill="#000"/>
<rect x="799" y="398" width="3" height="5" fill="#fff"/>
<rect x="814" y="375" width="5" height="15" fill="#000"/>
<rect x="815" y="376" width="3" height="13" fill="#fff"/>
<rect x="822" y="368" width="5" height="8" fill="#000"/>
<rect x="823" y="369" width="3" height="6" fill="#fff"/>
<rect x="862" y="376" width="5" height="11" fill="#000"/>
<rect x="863" y="377" width="3" height="9" fill="#fff"/>
<rect x="878" y="367" width="5" height="22" fill="#000"/>
<rect x="879" y="368" width="3" height="20" fill="#fff"/>
<rect x="886" y="346" width="5" height="22" fill="#000"/>
<rect x="887" y="347" width="3" height="20" fill="#fff"/>
<rect x="910" y="353" width="5" height="7" fill="#000"/>
<rect x="911" y="354" width="3" height="5" fill="#fff"/>
<rect x="942" y="364" width="5" height="4" fill="#000"/>
<rect x="943" y="365" width="3" height="2" fill="#fff"/>
<rect x="958" y="358" width="5" height="3" fill="#000"/>
<rect x="959" y="359" width="3" height="1" fill="#fff"/>
<rect x="966" y="357" width="5" height="3" fill="#000"/>
<rect x="967" y="358" width="3" height="1" fill="#fff"/>
<rect x="982" y="362" width="5" height="3" fill="#000"/>
<rect x="983" y="363" width="3" height="1" fill="#fff"/>
<rect x="1030" y="386" width="5" height="12" fill="#000"/>
<rect x="1031" y="387" width="3" height="10" fill="#fff"/>
<rect x="1054" y="367" width="5" height="37" fill="#000"/>
<rect x="1055" y="368" width="3" height="35" fill="#fff"/>
<rect x="1062" y="341" width="5" height="28" fill="#000"/>
<rect x="1063" y="342" width="3" height="26" fill="#fff"/>
<rect x="1070" y="328" width="5" height="13" fill="#000"/>
<rect x="1071" y="329" width="3" height="11" fill="#fff"/>
<rect x="1078" y="306" width="5" height="25" fill="#000"/>
<rect x="1079" y="307" width="3" height="23" fill="#fff"/>
<rect x="1086" y="285" width="5" height="23" fill="#000"/>
<rect x="1087" y="286" width="3" height="21" fill="#fff"/>
<rect x="1094" y="268" width="5" height="13" fill="#000"/>
<rect x="1095" y="269" width="3" height="11" fill="#fff"/>
<rect x="1102" y="206" width="5" height="63" fill="#000"/>
<rect x="1103" y="207" width="3" height="61" fill="#fff"/>
<rect x="1118" y="188" width="5" height="23" fill="#000"/>
<rect x="1119" y="189" width="3" height="21" fill="#fff"/>
<rect x="1134" y="173" width="5" height="19" fill="#000"/>
<rect x="1135" y="174" width="3" height="17" fill="#fff"/>
<rect x="1142" y="163" width="5" height="3" fill="#000"/>
<rect x="1143" y="164" width="3" height="1" fill="#fff"/>
<rect x="1150" y="128" width="5" height="38" fill="#000"/>
<rect x="1151" y="129" width="3" height="36" fill="#fff"/>
<rect x="1182" y="164" width="5" height="24" fill="#000"/>
<rect x="1183" y="165" width="3" height="22" fill="#fff"/>
<rect x="1190" y="165" width="5" height="4" fill="#000"/>
<rect x="1191" y="166" width="3" height="2" fill="#fff"/>
<rect x="1198" y="141" width="5" height="25" fill="#000"/>
<rect x="1199" y="142" width="3" height="23" fill="#fff"/>
<rect x="1206" y="89" width="5" height="53" fill="#000"/>
<rect x="1207" y="90" width="3" height="51" fill="#fff"/>
<rect x="1222" y="94" width="5" height="20" fill="#000"/>
<rect x="1223" y="95" width="3" height="18" fill="#fff"/>
<rect x="1230" y="66" width="5" height="26" fill="#000"/>
<rect x="1231" y="67" width="3" height="24" fill="#fff"/>
<rect x="1238" y="60" width="5" height="3" fill="#000"/>
<rect x="1239" y="61" width="3" height="1" fill="#fff"/>
<rect x="1254" y="58" width="5" height="24" fill="#000"/>
<rect x="1255" y="59" width="3" height="22" fill="#fff"/>
<rect x="1278" y="64" width="5" height="5" fill="#000"/>
<rect x="1279" y="65" width="3" height="3" fill="#fff"/>
<rect x="1302" y="94" width="5" height="9" fill="#000"/>
<rect x="1303" y="95" width="3" height="7" fill="#fff"/>
<rect x="1310" y="82" width="5" height="14" fill="#000"/>
<rect x="1311" y="83" width="3" height="12" fill="#fff"/>
<rect x="1318" y="76" width="5" height="6" fill="#000"/>
<rect x="1319" y="77" width="3" height="4" fill="#fff"/>
<rect x="1350" y="70" width="5" height="13" fill="#000"/>
<rect x="1351" y="71" width="3" height="11" fill="#fff"/>
<rect x="1406" y="82" width="5" height="8" fill="#000"/>
<rect x="1407" y="83" width="3" height="6" fill="#fff"/>
<rect x="1422" y="80" width="5" height="3" fill="#000"/>
<rect x="1423" y="81" width="3" height="1" fill="#fff"/>
<rect x="1430" y="79" width="5" height="3" fill="#000"/>
<rect x="1431" y="80" width="3" height="1" fill="#fff"/>
<rect x="1438" y="59" width="5" height="22" fill="#000"/>
<rect x="1439" y="60" width="3" height="20" fill="#fff"/>
</g>
<rect x="1261" y="67" width="217" height="7" fill="#00f000" shape-rendering="crispEdges"/>
<path d="M1448 24h10l-5 5z" fill="#a0a0a0"/>
<line x1="1393.0" y1="119.0" x2="1452.9" y2="66.4" stroke="#ff0000" stroke-width="2.6" stroke-linecap="round"/><path d="M1458.5 61.5L1454.2 71.0L1448.5 64.5z" fill="#ff0000"/>
<rect x="1115.5" y="56.5" width="73" height="24" fill="#fff" stroke="#ff0000" stroke-width="1" shape-rendering="crispEdges"/>
<text x="1116.3" y="76.8" style="font-family:&quot;Liberation Sans&quot;,sans-serif;font-size:22px" fill="#ff0000" textLength="71" lengthAdjust="spacingAndGlyphs">26757.0</text>
<rect x="1105" y="68" width="8" height="1" fill="#ff0000" shape-rendering="crispEdges"/><rect x="1112.5" y="66.5" width="3" height="3" fill="#fff" stroke="#ff0000" stroke-width="1" shape-rendering="crispEdges"/>
<text x="1474.5" y="119" style="font-family:&quot;Liberation Sans&quot;,&quot;Noto Sans CJK SC&quot;,sans-serif;font-size:21.4px" fill="#00ff00" textLength="107" lengthAdjust="spacing">多空转折点</text>
<g shape-rendering="crispEdges" clip-path="url(#cd)">
<path d="M0 627h1v103h-1zM8 615h1v115h-1zM16 605h1v125h-1zM24 602h1v128h-1zM32 595h1v135h-1zM40 591h1v139h-1zM48 591h1v139h-1zM56 592h1v138h-1zM64 599h1v131h-1zM72 618h1v112h-1zM80 629h1v101h-1zM88 641h1v89h-1zM96 651h1v79h-1zM104 655h1v75h-1zM112 660h1v70h-1zM120 663h1v67h-1zM128 669h1v61h-1zM136 674h1v56h-1zM144 674h1v56h-1zM152 677h1v53h-1zM160 683h1v47h-1zM168 686h1v44h-1zM176 691h1v39h-1zM184 696h1v34h-1zM192 697h1v33h-1zM200 700h1v30h-1zM208 705h1v25h-1zM216 707h1v23h-1zM224 710h1v20h-1zM232 712h1v18h-1zM240 708h1v22h-1zM248 708h1v22h-1zM256 708h1v22h-1zM264 707h1v23h-1zM272 706h1v24h-1zM280 706h1v24h-1zM288 706h1v24h-1zM296 703h1v27h-1zM304 700h1v30h-1zM312 699h1v31h-1zM320 701h1v29h-1zM328 701h1v29h-1zM336 702h1v28h-1zM344 702h1v28h-1zM352 703h1v27h-1zM360 707h1v23h-1zM368 713h1v17h-1zM376 718h1v12h-1zM384 716h1v14h-1zM392 718h1v12h-1zM400 721h1v9h-1zM408 726h1v4h-1zM416 729h1v3h-1zM424 729h1v11h-1zM432 729h1v10h-1zM440 729h1v7h-1zM448 729h1v6h-1zM456 729h1v6h-1zM464 729h1v4h-1zM472 729h1v3h-1zM480 729h1v2h-1zM488 727h1v3h-1zM496 718h1v12h-1zM504 709h1v21h-1zM512 704h1v26h-1zM520 700h1v30h-1zM528 699h1v31h-1zM536 699h1v31h-1zM544 700h1v30h-1zM552 702h1v28h-1zM560 703h1v27h-1zM568 705h1v25h-1zM576 702h1v28h-1zM584 700h1v30h-1zM592 698h1v32h-1zM600 698h1v32h-1zM608 702h1v28h-1zM616 703h1v27h-1zM624 705h1v25h-1zM632 704h1v26h-1zM640 699h1v31h-1zM648 703h1v27h-1zM656 705h1v25h-1zM664 707h1v23h-1zM672 708h1v22h-1zM680 716h1v14h-1zM688 718h1v12h-1zM696 719h1v11h-1zM704 719h1v11h-1zM712 716h1v14h-1zM720 715h1v15h-1zM728 715h1v15h-1zM736 715h1v15h-1zM744 716h1v14h-1zM752 718h1v12h-1zM760 720h1v10h-1zM768 726h1v4h-1zM776 727h1v3h-1zM784 728h1v2h-1zM792 729h1v1h-1zM800 728h1v2h-1zM808 726h1v4h-1zM816 724h1v6h-1zM824 719h1v11h-1zM832 718h1v12h-1zM840 718h1v12h-1zM848 720h1v10h-1zM856 720h1v10h-1zM864 719h1v11h-1zM872 719h1v11h-1zM880 718h1v12h-1zM888 712h1v18h-1zM896 711h1v19h-1zM904 710h1v20h-1zM912 708h1v22h-1zM920 709h1v21h-1zM928 709h1v21h-1zM936 711h1v19h-1zM944 711h1v19h-1zM952 712h1v18h-1zM960 712h1v18h-1zM968 712h1v18h-1zM976 713h1v17h-1zM984 714h1v16h-1zM992 715h1v15h-1zM1000 716h1v14h-1zM1008 719h1v11h-1zM1016 722h1v8h-1zM1024 727h1v3h-1zM1040 729h1v3h-1zM1048 729h1v7h-1zM1056 729h1v4h-1zM1064 728h1v2h-1zM1072 721h1v9h-1zM1080 712h1v18h-1zM1088 703h1v27h-1zM1096 693h1v37h-1zM1104 676h1v54h-1zM1112 664h1v66h-1zM1120 652h1v78h-1zM1128 644h1v86h-1zM1136 636h1v94h-1zM1144 629h1v101h-1zM1152 620h1v110h-1zM1160 617h1v113h-1zM1168 619h1v111h-1zM1176 624h1v106h-1zM1184 627h1v103h-1zM1192 629h1v101h-1zM1200 629h1v101h-1zM1208 623h1v107h-1zM1216 622h1v108h-1zM1224 620h1v110h-1zM1232 615h1v115h-1zM1240 612h1v118h-1zM1248 614h1v116h-1zM1256 613h1v117h-1zM1264 615h1v115h-1zM1272 619h1v111h-1zM1280 622h1v108h-1zM1288 624h1v106h-1zM1296 635h1v95h-1zM1304 643h1v87h-1zM1312 648h1v82h-1zM1320 652h1v78h-1zM1328 658h1v72h-1zM1336 662h1v68h-1zM1344 667h1v63h-1zM1352 669h1v61h-1zM1360 672h1v58h-1zM1368 675h1v55h-1zM1376 679h1v51h-1zM1384 680h1v50h-1zM1392 686h1v44h-1zM1400 691h1v39h-1zM1408 694h1v36h-1zM1416 697h1v33h-1zM1424 699h1v31h-1zM1432 701h1v29h-1zM1440 698h1v32h-1z" fill="#c0c0c0"/>
<polyline points="0.0,654.5 8.0,647.0 16.0,639.5 24.3,631.1 32.1,623.6 40.2,617.1 48.2,610.6 56.0,605.0 64.4,601.8 72.9,600.3 80.3,601.2 87.8,605.0 96.2,611.5 104.6,618.0 112.1,625.5 120.5,633.0 128.9,641.4 136.4,649.8 144.8,657.3 152.3,661.9 160.7,666.0 168.1,669.8 176.5,674.1 184.9,678.4 192.4,682.5 200.8,686.2 208.3,689.6 216.7,692.8 224.2,695.9 232.6,699.7 241.0,702.7 248.5,704.5 256.9,705.8 264.3,706.8 272.7,707.3 280.2,707.3 288.6,707.1 293.7,706.4 304.7,705.1 320.4,703.3 328.7,702.0 344.3,701.5 360.0,701.5 372.9,703.3 384.0,706.4 396.9,709.4 407.9,713.4 419.0,717.5 428.2,721.7 437.4,726.7 446.6,729.1 455.8,731.5 465.0,733.3 474.2,735.0 481.6,735.2 492.7,733.3 501.9,729.6 511.1,725.4 522.1,720.4 531.3,714.3 540.6,710.1 549.8,706.1 559.0,703.3 570.0,701.5 581.1,700.5 600.0,700.3 616.6,700.5 632.2,701.6 639.6,699.8 659.0,701.5 673.7,703.7 684.7,706.1 695.8,708.5 710.5,710.3 719.7,713.4 732.6,714.7 743.7,715.6 762.1,716.6 769.5,717.7 780.5,718.6 791.6,721.3 804.5,722.6 815.5,724.5 832.1,724.5 846.9,722.6 857.9,721.2 872.7,719.5 880.0,718.4 894.8,716.6 904.0,714.9 912.1,714.3 920.7,713.5 928.5,712.3 943.2,710.5 951.8,709.3 970.8,709.3 976.0,710.5 995.0,711.4 1003.6,712.8 1014.0,714.0 1024.4,715.7 1031.3,718.3 1038.2,719.5 1046.8,722.6 1055.4,725.2 1064.1,726.6 1072.7,727.5 1081.3,726.4 1090.0,723.0 1098.6,718.3 1104.7,714.0 1112.4,706.2 1120.2,696.7 1128.0,687.2 1135.8,678.6 1144.4,666.5 1152.2,656.1 1160.4,648.4 1168.6,639.4 1176.3,633.2 1185.0,628.5 1195.5,626.3 1205.9,623.2 1214.5,622.3 1231.8,622.3 1242.2,621.4 1250.8,619.0 1259.4,617.3 1268.1,616.8 1273.3,615.0 1283.6,616.3 1290.5,616.4 1299.2,618.5 1307.8,622.8 1316.4,627.1 1325.1,632.3 1333.7,637.0 1340.6,642.7 1345.8,646.1 1352.7,650.8 1370.0,660.7 1400.0,674.5 1440.0,692.8" fill="none" stroke="#ff0000" stroke-width="1" stroke-dasharray="3 3"/>
</g>
<line x1="1273.0" y1="616.0" x2="1443.8" y2="694.7" stroke="#ff0000" stroke-width="3" stroke-linecap="round"/><path d="M1452.0 698.5L1440.1 698.1L1443.9 689.7z" fill="#ff0000"/>
<g shape-rendering="crispEdges" clip-path="url(#cr)">
<line x1="0" y1="786.5" x2="1690" y2="786.5" stroke="#c0c0c0" stroke-width="1" stroke-dasharray="3 3"/>
<line x1="0" y1="837.5" x2="1690" y2="837.5" stroke="#c0c0c0" stroke-width="1" stroke-dasharray="3 3"/>
<line x1="0" y1="898.5" x2="1690" y2="898.5" stroke="#c0c0c0" stroke-width="1" stroke-dasharray="3 3"/>
<polyline points="0.5,792.3 8.5,785.3 16.5,783.4 24.5,796.2 32.5,789.5 40.5,789.5 48.5,791.0 56.5,802.1 64.5,807.8 72.5,833.0 80.5,828.3 88.5,831.5 96.5,830.2 104.5,821.0 112.5,825.4 120.5,822.1 128.5,828.3 136.5,828.3 144.5,820.2 152.5,824.1 160.5,833.0 168.5,828.6 176.5,833.0 184.5,834.4 192.5,829.6 200.5,831.1 208.5,837.2 216.5,834.4 224.5,836.5 232.5,833.4 240.5,822.5 248.5,829.2 256.5,827.3 264.5,827.3 272.5,824.4 280.5,823.5 288.5,825.0 296.5,817.8 304.5,814.5 312.5,820.2 320.5,826.4 328.5,823.7 336.5,822.4 344.5,823.3 352.5,827.0 360.5,833.4 368.5,847.2 376.5,841.7 384.5,829.4 392.5,837.1 400.5,838.6 408.5,849.1 416.5,862.4 424.5,860.5 432.5,839.9 440.5,836.6 448.5,836.2 456.5,839.3 464.5,837.7 472.5,837.5 480.5,833.1 488.5,823.3 496.5,807.6 504.5,804.3 512.5,814.1 520.5,812.2 528.5,817.4 536.5,823.3 544.5,823.7 552.5,822.4 560.5,830.1 568.5,828.5 576.5,814.5 584.5,814.5 592.5,812.2 600.5,815.9 608.5,836.2 616.5,824.2 624.5,830.1 632.5,822.4 640.5,812.2 648.5,835.3 656.5,831.2 664.5,833.4 672.5,830.1 680.5,847.2 688.5,836.2 696.5,837.7 704.5,832.9 712.5,826.1 720.5,829.4 728.5,829.4 736.5,830.3 744.5,834.3 752.5,838.4 760.5,838.4 768.5,851.5 776.5,838.0 784.5,840.4 792.5,838.6 800.5,834.3 808.5,831.6 816.5,823.7 824.5,820.2 832.5,828.3 840.5,829.4 848.5,837.5 856.5,833.4 864.5,826.4 872.5,834.3 880.5,823.7 888.5,814.1 896.5,823.7 904.5,823.5 912.5,820.3 920.5,827.3 928.5,826.3 936.5,830.4 944.5,828.2 952.5,826.3 960.5,824.3 968.5,823.4 976.5,829.5 984.5,828.2 992.5,828.2 1000.5,831.3 1008.5,842.4 1016.5,844.2 1024.5,859.5 1032.5,847.5 1040.5,854.0 1048.5,858.0 1056.5,832.8 1064.5,817.5 1072.5,813.3 1080.5,804.2 1088.5,798.2 1096.5,793.9 1104.5,782.1 1112.5,785.8 1120.5,782.5 1128.5,785.8 1136.5,782.5 1144.5,781.2 1152.5,776.4 1160.5,789.2 1168.5,802.0 1176.5,809.2 1184.5,804.4 1192.5,804.4 1200.5,799.5 1208.5,790.3 1216.5,801.0 1224.5,797.3 1232.5,793.4 1240.5,793.4 1248.5,802.2 1256.5,798.2 1264.5,802.8 1272.5,805.9 1280.5,804.1 1288.5,802.2 1296.5,823.4 1304.5,821.6 1312.5,817.5 1320.5,815.7 1328.5,822.5 1336.5,820.3 1344.5,821.2 1352.5,816.1 1360.5,817.9 1368.5,819.7 1376.5,820.7 1384.5,817.0 1392.5,831.3 1400.5,830.4 1408.5,826.6 1416.5,826.2 1424.5,825.3 1432.5,825.3 1440.5,817.9" fill="none" stroke="#1e90ff" stroke-width="1"/>
</g>
<line x1="1167.0" y1="796.7" x2="1391.6" y2="824.0" stroke="#ff0000" stroke-width="3.2" stroke-linecap="round"/><path d="M1400.0 825.0L1389.0 828.3L1390.1 819.2z" fill="#ff0000"/>
<line x1="1399.0" y1="825.0" x2="1437.6" y2="819.5" stroke="#ff0000" stroke-width="3.2" stroke-linecap="round"/><path d="M1446.0 818.3L1436.3 824.3L1435.0 815.2z" fill="#ff0000"/>
<g shape-rendering="crispEdges" fill="#000">
<rect x="0" y="23" width="1691" height="1"/>
<rect x="1690" y="23" width="1" height="902"/>
<rect x="0" y="576" width="1691" height="1"/>
<rect x="0" y="578" width="1691" height="1"/>
<rect x="0" y="748" width="1691" height="1"/>
<rect x="0" y="750" width="1691" height="1"/>
<rect x="0" y="924" width="1691" height="1"/>
<rect x="1691" y="45" width="2" height="1"/>
<rect x="1691" y="78" width="2" height="1"/>
<rect x="1691" y="111" width="2" height="1"/>
<rect x="1691" y="144" width="2" height="1"/>
<rect x="1691" y="177" width="2" height="1"/>
<rect x="1691" y="210" width="2" height="1"/>
<rect x="1691" y="243" width="2" height="1"/>
<rect x="1691" y="276" width="2" height="1"/>
<rect x="1691" y="309" width="2" height="1"/>
<rect x="1691" y="342" width="2" height="1"/>
<rect x="1691" y="375" width="2" height="1"/>
<rect x="1691" y="408" width="2" height="1"/>
<rect x="1691" y="441" width="2" height="1"/>
<rect x="1691" y="474" width="2" height="1"/>
<rect x="1691" y="507" width="2" height="1"/>
<rect x="1691" y="540" width="2" height="1"/>
<rect x="1691" y="573" width="2" height="1"/>
<rect x="1691" y="580" width="2" height="1"/>
<rect x="1691" y="729" width="2" height="1"/>
<rect x="1691" y="747" width="2" height="1"/>
<rect x="1691" y="752" width="2" height="1"/>
<rect x="1691" y="923" width="2" height="1"/>
<rect x="0" y="925" width="1" height="3"/>
<rect x="64" y="925" width="1" height="3"/>
<rect x="128" y="925" width="1" height="3"/>
<rect x="192" y="925" width="1" height="3"/>
<rect x="256" y="925" width="1" height="3"/>
<rect x="320" y="925" width="1" height="3"/>
<rect x="384" y="925" width="1" height="3"/>
<rect x="448" y="925" width="1" height="3"/>
<rect x="512" y="925" width="1" height="3"/>
<rect x="576" y="925" width="1" height="3"/>
<rect x="640" y="925" width="1" height="3"/>
<rect x="704" y="925" width="1" height="3"/>
<rect x="768" y="925" width="1" height="3"/>
<rect x="832" y="925" width="1" height="3"/>
<rect x="896" y="925" width="1" height="3"/>
<rect x="960" y="925" width="1" height="3"/>
<rect x="1024" y="925" width="1" height="3"/>
<rect x="1088" y="925" width="1" height="3"/>
<rect x="1152" y="925" width="1" height="3"/>
<rect x="1216" y="925" width="1" height="3"/>
<rect x="1280" y="925" width="1" height="3"/>
<rect x="1344" y="925" width="1" height="3"/>
<rect x="1408" y="925" width="1" height="3"/>
</g>
<text x="1696" y="114.5" style="font-family:&quot;Liberation Sans&quot;,sans-serif;font-size:9.8px;letter-spacing:-0.4px" fill="#000" >26284.0</text>
<text x="1696" y="147.5" style="font-family:&quot;Liberation Sans&quot;,sans-serif;font-size:9.8px;letter-spacing:-0.4px" fill="#000" >25927.0</text>
<text x="1696" y="180.5" style="font-family:&quot;Liberation Sans&quot;,sans-serif;font-size:9.8px;letter-spacing:-0.4px" fill="#000" >25559.5</text>
<text x="1696" y="213.5" style="font-family:&quot;Liberation Sans&quot;,sans-serif;font-size:9.8px;letter-spacing:-0.4px" fill="#000" >25202.5</text>
<text x="1696" y="246.5" style="font-family:&quot;Liberation Sans&quot;,sans-serif;font-size:9.8px;letter-spacing:-0.4px" fill="#000" >24835.0</text>
<text x="1696" y="279.5" style="font-family:&quot;Liberation Sans&quot;,sans-serif;font-size:9.8px;letter-spacing:-0.4px" fill="#000" >24478.0</text>
<text x="1696" y="312.5" style="font-family:&quot;Liberation Sans&quot;,sans-serif;font-size:9.8px;letter-spacing:-0.4px" fill="#000" >24110.5</text>
<text x="1696" y="345.5" style="font-family:&quot;Liberation Sans&quot;,sans-serif;font-size:9.8px;letter-spacing:-0.4px" fill="#000" >23753.5</text>
<text x="1696" y="378.5" style="font-family:&quot;Liberation Sans&quot;,sans-serif;font-size:9.8px;letter-spacing:-0.4px" fill="#000" >23386.0</text>
<text x="1696" y="411.5" style="font-family:&quot;Liberation Sans&quot;,sans-serif;font-size:9.8px;letter-spacing:-0.4px" fill="#000" >23018.5</text>
<text x="1696" y="444.5" style="font-family:&quot;Liberation Sans&quot;,sans-serif;font-size:9.8px;letter-spacing:-0.4px" fill="#000" >22661.5</text>
<text x="1696" y="477.5" style="font-family:&quot;Liberation Sans&quot;,sans-serif;font-size:9.8px;letter-spacing:-0.4px" fill="#000" >22294.0</text>
<text x="1696" y="510.5" style="font-family:&quot;Liberation Sans&quot;,sans-serif;font-size:9.8px;letter-spacing:-0.4px" fill="#000" >21937.0</text>
<text x="1696" y="543.5" style="font-family:&quot;Liberation Sans&quot;,sans-serif;font-size:9.8px;letter-spacing:-0.4px" fill="#000" >21569.5</text>
<text x="1696" y="576.5" style="font-family:&quot;Liberation Sans&quot;,sans-serif;font-size:9.8px;letter-spacing:-0.4px" fill="#000" >21212.5</text>
<text x="1696" y="81.5" style="font-family:&quot;Liberation Sans&quot;,sans-serif;font-size:9.8px;letter-spacing:-0.4px" fill="#000" >26651.5</text>
<text x="1694" y="588.5" style="font-family:&quot;Liberation Sans&quot;,sans-serif;font-size:9.8px;letter-spacing:-0.4px" fill="#000" >857.58</text>
<text x="1694" y="732.5" style="font-family:&quot;Liberation Sans&quot;,sans-serif;font-size:9.8px;letter-spacing:-0.4px" fill="#000" >0.00</text>
<text x="1694" y="744.5" style="font-family:&quot;Liberation Sans&quot;,sans-serif;font-size:9.8px;letter-spacing:-0.4px" fill="#000" >-106.8</text>
<text x="1694.5" y="760.5" style="font-family:&quot;Liberation Sans&quot;,sans-serif;font-size:9.8px;letter-spacing:-0.4px" fill="#000" >100</text>
<text x="1693.5" y="790" style="font-family:&quot;Liberation Sans&quot;,sans-serif;font-size:9.8px;letter-spacing:-0.4px" fill="#000" >80</text>
<text x="1693.5" y="840.5" style="font-family:&quot;Liberation Sans&quot;,sans-serif;font-size:9.8px;letter-spacing:-0.4px" fill="#000" >50</text>
<text x="1693.5" y="901.5" style="font-family:&quot;Liberation Sans&quot;,sans-serif;font-size:9.8px;letter-spacing:-0.4px" fill="#000" >15</text>
<text x="1693.5" y="921" style="font-family:&quot;Liberation Sans&quot;,sans-serif;font-size:9.8px;letter-spacing:-0.4px" fill="#000" >0</text>
<rect x="1692" y="25" width="41" height="11" fill="#ff0000" shape-rendering="crispEdges"/>
<text x="1696.5" y="34" style="font-family:&quot;Liberation Sans&quot;,sans-serif;font-size:9.8px;letter-spacing:-0.4px" fill="#fff">27163.2</text>
<rect x="1692" y="39" width="41" height="11" fill="#ff0000" shape-rendering="crispEdges"/>
<text x="1696.5" y="48" style="font-family:&quot;Liberation Sans&quot;,sans-serif;font-size:9.8px;letter-spacing:-0.4px" fill="#fff">27009.5</text>
<rect x="1692" y="54" width="41" height="11" fill="#000000" shape-rendering="crispEdges"/>
<text x="1696.5" y="63" style="font-family:&quot;Liberation Sans&quot;,sans-serif;font-size:9.8px;letter-spacing:-0.4px" fill="#fff">26862.5</text>
<rect x="1692" y="62" width="41" height="11" fill="#32cd32" shape-rendering="crispEdges"/>
<text x="1696.5" y="71" style="font-family:&quot;Liberation Sans&quot;,sans-serif;font-size:9.8px;letter-spacing:-0.4px" fill="#fff">26757.0</text>
<rect x="1692" y="78" width="41" height="11" fill="#0000ff" shape-rendering="crispEdges"/>
<text x="1696.5" y="87" style="font-family:&quot;Liberation Sans&quot;,sans-serif;font-size:9.8px;letter-spacing:-0.4px" fill="#fff">26581.4</text>
<rect x="1692" y="95" width="41" height="11" fill="#0000ff" shape-rendering="crispEdges"/>
<text x="1696.5" y="104" style="font-family:&quot;Liberation Sans&quot;,sans-serif;font-size:9.8px;letter-spacing:-0.4px" fill="#fff">26394.8</text>
<rect x="1685.5" y="29.5" width="4" height="4" fill="#fff" stroke="#ff0000" stroke-width="1" shape-rendering="crispEdges"/>
<rect x="1685.5" y="43.5" width="4" height="4" fill="#fff" stroke="#ff0000" stroke-width="1" shape-rendering="crispEdges"/>
<rect x="1685.5" y="66.5" width="4" height="4" fill="#fff" stroke="#32cd32" stroke-width="1" shape-rendering="crispEdges"/>
<rect x="1685.5" y="82.5" width="4" height="4" fill="#fff" stroke="#0000ff" stroke-width="1" shape-rendering="crispEdges"/>
<rect x="1685.5" y="99.5" width="4" height="4" fill="#fff" stroke="#0000ff" stroke-width="1" shape-rendering="crispEdges"/>
<rect x="0.5" y="29.5" width="4" height="4" fill="#fff" stroke="#ff0000" stroke-width="1" shape-rendering="crispEdges"/>
<path d="M4 34L7.5 29.5L11 34z" fill="#000"/>
<text x="-0.5" y="937" style="font-family:&quot;Liberation Sans&quot;,sans-serif;font-size:9.8px;letter-spacing:-0.4px" fill="#000" >1 Jun 2020</text>
<text x="63.5" y="937" style="font-family:&quot;Liberation Sans&quot;,sans-serif;font-size:9.8px;letter-spacing:-0.4px" fill="#000" >10 Jun 2020</text>
<text x="127.5" y="937" style="font-family:&quot;Liberation Sans&quot;,sans-serif;font-size:9.8px;letter-spacing:-0.4px" fill="#000" >19 Jun 2020</text>
<text x="191.5" y="937" style="font-family:&quot;Liberation Sans&quot;,sans-serif;font-size:9.8px;letter-spacing:-0.4px" fill="#000" >29 Jun 2020</text>
<text x="255.5" y="937" style="font-family:&quot;Liberation Sans&quot;,sans-serif;font-size:9.8px;letter-spacing:-0.4px" fill="#000" >8 Jul 2020</text>
<text x="319.5" y="937" style="font-family:&quot;Liberation Sans&quot;,sans-serif;font-size:9.8px;letter-spacing:-0.4px" fill="#000" >17 Jul 2020</text>
<text x="383.5" y="937" style="font-family:&quot;Liberation Sans&quot;,sans-serif;font-size:9.8px;letter-spacing:-0.4px" fill="#000" >27 Jul 2020</text>
<text x="447.5" y="937" style="font-family:&quot;Liberation Sans&quot;,sans-serif;font-size:9.8px;letter-spacing:-0.4px" fill="#000" >5 Aug 2020</text>
<text x="511.5" y="937" style="font-family:&quot;Liberation Sans&quot;,sans-serif;font-size:9.8px;letter-spacing:-0.4px" fill="#000" >14 Aug 2020</text>
<text x="575.5" y="937" style="font-family:&quot;Liberation Sans&quot;,sans-serif;font-size:9.8px;letter-spacing:-0.4px" fill="#000" >24 Aug 2020</text>
<text x="639.5" y="937" style="font-family:&quot;Liberation Sans&quot;,sans-serif;font-size:9.8px;letter-spacing:-0.4px" fill="#000" >2 Sep 2020</text>
<text x="703.5" y="937" style="font-family:&quot;Liberation Sans&quot;,sans-serif;font-size:9.8px;letter-spacing:-0.4px" fill="#000" >11 Sep 2020</text>
<text x="767.5" y="937" style="font-family:&quot;Liberation Sans&quot;,sans-serif;font-size:9.8px;letter-spacing:-0.4px" fill="#000" >21 Sep 2020</text>
<text x="831.5" y="937" style="font-family:&quot;Liberation Sans&quot;,sans-serif;font-size:9.8px;letter-spacing:-0.4px" fill="#000" >30 Sep 2020</text>
<text x="895.5" y="937" style="font-family:&quot;Liberation Sans&quot;,sans-serif;font-size:9.8px;letter-spacing:-0.4px" fill="#000" >9 Oct 2020</text>
<text x="959.5" y="937" style="font-family:&quot;Liberation Sans&quot;,sans-serif;font-size:9.8px;letter-spacing:-0.4px" fill="#000" >19 Oct 2020</text>
<text x="1023.5" y="937" style="font-family:&quot;Liberation Sans&quot;,sans-serif;font-size:9.8px;letter-spacing:-0.4px" fill="#000" >28 Oct 2020</text>
<text x="1087.5" y="937" style="font-family:&quot;Liberation Sans&quot;,sans-serif;font-size:9.8px;letter-spacing:-0.4px" fill="#000" >6 Nov 2020</text>
<text x="1151.5" y="937" style="font-family:&quot;Liberation Sans&quot;,sans-serif;font-size:9.8px;letter-spacing:-0.4px" fill="#000" >16 Nov 2020</text>
<text x="1215.5" y="937" style="font-family:&quot;Liberation Sans&quot;,sans-serif;font-size:9.8px;letter-spacing:-0.4px" fill="#000" >25 Nov 2020</text>
<text x="1279.5" y="937" style="font-family:&quot;Liberation Sans&quot;,sans-serif;font-size:9.8px;letter-spacing:-0.4px" fill="#000" >4 Dec 2020</text>
<text x="1343.5" y="937" style="font-family:&quot;Liberation Sans&quot;,sans-serif;font-size:9.8px;letter-spacing:-0.4px" fill="#000" >14 Dec 2020</text>
<text x="1407.5" y="937" style="font-family:&quot;Liberation Sans&quot;,sans-serif;font-size:9.8px;letter-spacing:-0.4px" fill="#000" >23 Dec 2020</text>
<text x="15" y="35" style="font-family:&quot;Liberation Sans&quot;,sans-serif;font-size:9.8px;letter-spacing:-0.4px" fill="#000" textLength="207" lengthAdjust="spacing">JPN225-,Daily&#160;&#160;26632.5 26922.5 26592.5 26862.5</text>
<text x="4" y="590.6" style="font-family:&quot;Liberation Sans&quot;,sans-serif;font-size:9.8px;letter-spacing:-0.4px" fill="#000" textLength="128" lengthAdjust="spacing">MACD(12,26,9) 175.19 219.23</text>
<text x="4" y="762.5" style="font-family:&quot;Liberation Sans&quot;,sans-serif;font-size:9.8px;letter-spacing:-0.4px" fill="#000" textLength="68" lengthAdjust="spacing">RSI(14) 63.2549</text>
</svg>
<div id="rb"></div>
<div id="panel">
 <div style="left:0;top:0;width:219px;height:64px;background:#fff"></div>
 <div class="tab" style="left:0;top:0;width:52px;height:24px;letter-spacing:-0.7px;font-size:11.8px">SELL</div>
 <div class="tab" style="left:167px;top:0;width:52px;height:24px">BUY</div>
 <div style="left:4px;top:23px;width:44px;height:1px;background:#f08080"></div>
 <div style="left:171px;top:23px;width:44px;height:1px;background:#f08080"></div>
 <div style="left:54px;top:0;width:111px;height:22px;background:#fff;border:1px solid #a9b0bd"></div>
 <div style="left:55px;top:1px;width:20px;height:20px;background:linear-gradient(#e8e8e8,#c8c8c8);border-right:1px solid #a9b0bd"></div>
 <div style="left:144px;top:1px;width:20px;height:20px;background:linear-gradient(#e8e8e8,#c8c8c8);border-left:1px solid #a9b0bd"></div>
 <div style="left:62px;top:9px;width:0;height:0;border-left:3px solid transparent;border-right:3px solid transparent;border-top:3px solid #4a5fb0"></div>
 <div style="left:151px;top:9px;width:0;height:0;border-left:3px solid transparent;border-right:3px solid transparent;border-bottom:3px solid #4a5fb0"></div>
 <div style="left:76px;top:1px;width:65px;height:20px;font-size:12.5px;line-height:20px;text-align:right;color:#000">1.00</div>
 <div class="big" style="left:0;top:24px;width:109px;height:40px"></div>
 <div class="big" style="left:111px;top:24px;width:108px;height:40px"></div>
 <div style="left:16.3px;top:44.9px;font-size:12.2px;font-weight:bold;color:#fff;line-height:12px">26861</div>
 <div style="left:126px;top:44.9px;font-size:12.2px;font-weight:bold;color:#fff;line-height:12px">26884</div>
 <div style="left:55.3px;top:52.2px;width:4px;height:3.4px;background:#fff"></div>
 <div style="left:166.5px;top:52.2px;width:4px;height:3.4px;background:#fff"></div>
 <div style="left:60.5px;top:25.2px;font-size:35px;color:#fff;line-height:35px;transform:scaleX(0.94);transform-origin:0 0">0</div>
 <div style="left:171.2px;top:25.2px;font-size:35px;color:#fff;line-height:35px;transform:scaleX(0.94);transform-origin:0 0">0</div>
</div>
</body></html>
